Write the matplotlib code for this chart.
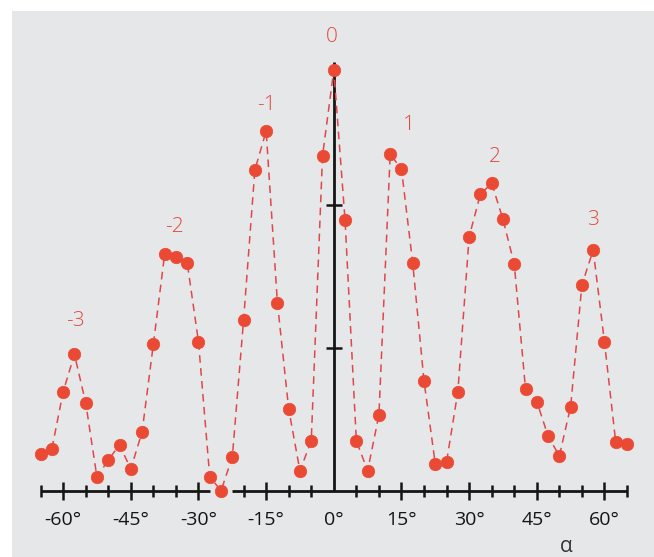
import numpy as np
import matplotlib
matplotlib.use("Agg")
import matplotlib.pyplot as plt

# ---- data ----
angles = [-65, -62.5, -60, -57.5, -55, -52.5, -50, -47.5, -45, -42.5, -40, -37.5, -35, -32.5,
          -30, -27.5, -25, -22.5, -20, -17.5, -15, -12.5, -10, -7.5, -5, -2.5, 0,
          2.5, 5, 7.5, 10, 12.5, 15, 17.5, 20, 22.5, 25, 27.5, 30, 32.5, 35, 37.5, 40,
          42.5, 45, 47.5, 50, 52.5, 55, 57.5, 60, 62.5, 65]
intensity = [0.257, 0.294, 0.694, 0.956, 0.617, 0.096, 0.217, 0.322, 0.154, 0.413, 1.026, 1.655,
             1.638, 1.597, 1.044, 0.100, 0.002, 0.236, 1.196, 2.245, 2.517, 1.317, 0.573, 0.140,
             0.352, 2.343, 2.944,
             1.892, 0.350, 0.142, 0.531, 2.354, 2.252, 1.592, 0.769, 0.189, 0.205, 0.694, 1.778,
             2.075, 2.152, 1.900, 1.587, 0.713, 0.625, 0.385, 0.245, 0.590, 1.441, 1.685, 1.042,
             0.340, 0.329]

order_labels = ["-3", "-2", "-1", "0", "1", "2", "3"]
order_x = [-57.2, -35.3, -15.0, -0.4, 16.6, 35.6, 57.4]
order_y = [1.19, 1.846, 2.70, 3.175, 2.56, 2.336, 1.895]

tick_values = [-60, -45, -30, -15, 0, 15, 30, 45, 60]
tick_labels = ["-60°", "-45°", "-30°", "-15°", "0°", "15°", "30°", "45°", "60°"]
minor_ticks = list(range(-65, 70, 5))
yticks = [1, 2]

# ---- style ----
bg = "#e6e7e9"
red = "#ea4a34"
line_red = "#e0464a"
label_red = "#e34a3e"
black = "#151515"

W, H = 654, 557
fig = plt.figure(figsize=(W / 100, H / 100), dpi=100, facecolor="white")
left_px, top_px = 12, 11
ax = fig.add_axes([left_px / W, 0, 1 - left_px / W, 1 - top_px / H])
ax.set_facecolor(bg)
for s in ax.spines.values():
    s.set_visible(False)
ax.set_xticks([])
ax.set_yticks([])

x0_px, sx = 333.8, 4.511
y0_px, sy = 491.0, 143.0
ax.set_xlim((left_px - x0_px) / sx, (W - x0_px) / sx)
ax.set_ylim((y0_px - H) / sy, (y0_px - top_px) / sy)

font = "Open Sans"

# horizontal axis (broken around the marker sitting on it)
ax.plot([-65, -27.5], [0, 0], color=black, lw=2.0, zorder=2, solid_capstyle="butt")
ax.plot([-22.5, 65], [0, 0], color=black, lw=2.0, zorder=2, solid_capstyle="butt")
# vertical axis
ax.plot([0, 0], [0, 3.0], color=black, lw=2.0, zorder=2, solid_capstyle="butt")

# ticks on the horizontal axis
for t in minor_ticks:
    if t == -25 or t == 0:
        continue
    h = 0.06 if t % 15 == 0 else 0.045
    ax.plot([t, t], [-h, h], color=black, lw=1.8, zorder=2, solid_capstyle="butt")
# ticks on the vertical axis
for yt in yticks:
    ax.plot([-1.8, 1.8], [yt, yt], color=black, lw=1.8, zorder=2, solid_capstyle="butt")

# data
ax.plot(angles, intensity, color=line_red, lw=1.1, ls=(0, (5, 3.5)), zorder=3)
ax.plot(angles, intensity, ls="none", marker="o", ms=9, color=red,
        markeredgecolor=red, markeredgewidth=0.5, zorder=4)

# order labels
for lab, lx, ly in zip(order_labels, order_x, order_y):
    ax.text(lx, ly, lab, color=label_red, fontsize=15, family=font, fontweight="light",
            ha="center", va="center", zorder=5)

# tick labels
for tv, tl in zip(tick_values, tick_labels):
    ax.text(tv, -0.203, tl, color=black, fontsize=14, family=font,
            ha="center", va="center", zorder=5)

ax.text(51.5, -0.385, "α", color="#333333", fontsize=15, family=font,
        ha="center", va="center", zorder=5)

fig.savefig("out.png", dpi=100, facecolor="white")
